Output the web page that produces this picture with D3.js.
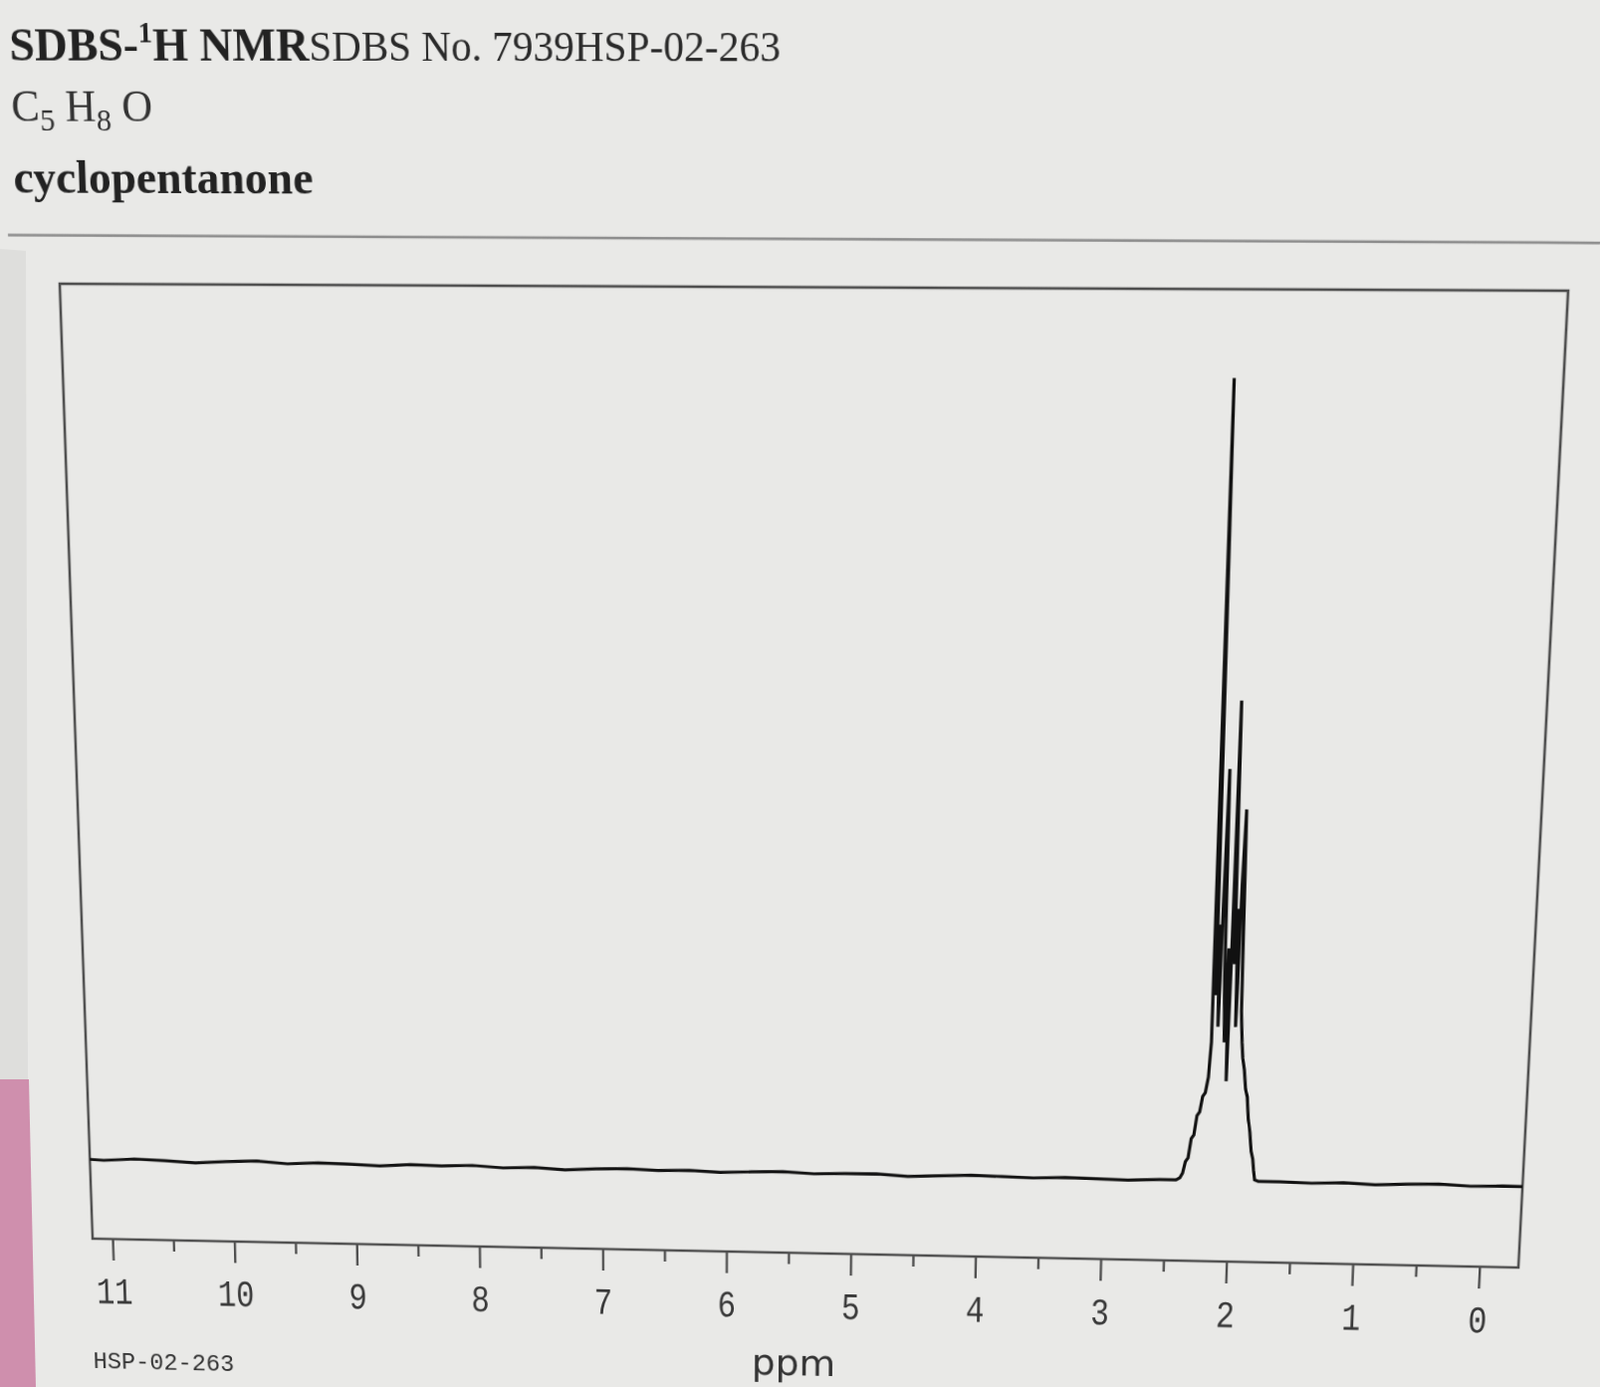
<!DOCTYPE html>
<html><head><meta charset="utf-8">
<script src="https://cdn.jsdelivr.net/npm/d3@7"></script>
<style>
html,body{margin:0;padding:0;width:1607px;height:1393px;overflow:hidden;background:#e9e9e7;}
#bg{position:absolute;left:0;top:0;}
#plane{position:absolute;left:0;top:0;width:1607px;height:1393px;transform-origin:0 0;}
</style></head><body>
<svg id="bg" width="1607" height="1393"></svg>
<div id="plane"><svg id="chart" width="1607" height="1393" style="overflow:visible"></svg></div>
<script>
// ---------------- data ----------------
const titleBold = "SDBS-";
const titleSup = "1";
const titleBold2 = "H NMR";
const titleRest = "SDBS No. 7939HSP-02-263";
const compoundName = "cyclopentanone";
const sampleCode = "HSP-02-263";
const axisLabel = "ppm";

const ppmMajorTicks = [11, 10, 9, 8, 7, 6, 5, 4, 3, 2, 1, 0];
const ppmMinorTicks = [10.5, 9.5, 8.5, 7.5, 6.5, 5.5, 4.5, 3.5, 2.5, 1.5, 0.5];

// baseline left of the multiplet
const baseLeftPpm = [11.3, 11.05, 10.8, 10.55, 10.3, 10.05, 9.8, 9.55, 9.3, 9.05, 8.8, 8.55, 8.3, 8.05, 7.8, 7.55, 7.3, 7.05, 6.8, 6.55, 6.3, 6.05, 5.8, 5.55, 5.3, 5.05, 4.8, 4.55, 4.3, 4.05, 3.8, 3.55, 3.3, 3.05, 2.8, 2.55];
const baseLeftInt = [0.2, 0.0, 0.25, 0.1, -0.1, 0.15, 0.3, 0.0, 0.2, 0.1, -0.05, 0.2, 0.1, 0.25, 0.0, 0.15, -0.1, 0.1, 0.2, 0.05, 0.15, -0.05, 0.1, 0.2, 0.0, 0.1, 0.15, -0.1, 0.05, 0.2, 0.1, 0.0, 0.15, 0.05, -0.05, 0.1];

// CH2 multiplet around 2.0-2.2 ppm
const multPpm = [2.42, 2.39, 2.37, 2.35, 2.33, 2.31, 2.29, 2.27, 2.25, 2.23, 2.21, 2.19, 2.175, 2.164, 2.152, 2.14, 2.128, 2.115, 2.10, 2.088, 2.075, 2.062, 2.05, 2.038, 2.027, 2.015, 2.00, 1.99, 1.975, 1.96, 1.948, 1.935, 1.925, 1.91, 1.895, 1.88, 1.865, 1.85, 1.835, 1.82, 1.81, 1.80, 1.77];
const multInt = [0.1, 0.4, 1.0, 2.5, 3.0, 5.5, 6.0, 8.5, 9.0, 11.0, 11.5, 13.5, 18, 100, 24, 33, 20, 36, 52.5, 26, 18, 30, 13, 32, 61, 28, 35, 20, 38, 47.5, 22, 18, 16, 14.5, 12, 11, 8, 6.5, 4, 3, 1.5, 0.3, 0.1];

// baseline right of the multiplet
const baseRightPpm = [1.6, 1.35, 1.1, 0.85, 0.6, 0.35, 0.1, -0.15, -0.4];
const baseRightInt = [0.1, 0.0, 0.15, -0.05, 0.1, 0.2, 0.0, 0.1, 0.05];

// ---------------- layout (page = photographed plane) ----------------
const PAGE_QUAD = [[60, 285], [1575, 292], [1525, 1273], [93, 1244]]; // frame TL, TR, BR, BL
const FLAT = {x: 76, y: 285, w: 1475, h: 970};
const CAL_11 = 113, CAL_0 = 1486;   // page x of the 11 and 0 ticks on the frame bottom
const BASE_GAP = 84;                // baseline height above frame bottom
const Y_MAX = 110.5;

function squareToQuad(q) {
  const [[x0, y0], [x1, y1], [x2, y2], [x3, y3]] = q;
  const dx1 = x1 - x2, dx2 = x3 - x2, dx3 = x0 - x1 + x2 - x3;
  const dy1 = y1 - y2, dy2 = y3 - y2, dy3 = y0 - y1 + y2 - y3;
  const den = dx1 * dy2 - dx2 * dy1;
  const g = (dx3 * dy2 - dx2 * dy3) / den;
  const h = (dx1 * dy3 - dx3 * dy1) / den;
  return [[x1 - x0 + g * x1, x3 - x0 + h * x3, x0],
          [y1 - y0 + g * y1, y3 - y0 + h * y3, y0],
          [g, h, 1]];
}
function mul(A, B) {
  return A.map((r, i) => [0, 1, 2].map(j => r[0] * B[0][j] + r[1] * B[1][j] + r[2] * B[2][j]));
}
function inv3(m) {
  const [a, b, c] = m[0], [d, e, f] = m[1], [g, h, i] = m[2];
  const A = e * i - f * h, B = -(d * i - f * g), C = d * h - e * g;
  const D = -(b * i - c * h), E = a * i - c * g, F = -(a * h - b * g);
  const G = b * f - c * e, H = -(a * f - c * d), I = a * e - b * d;
  const det = a * A + b * B + c * C;
  return [[A / det, D / det, G / det], [B / det, E / det, H / det], [C / det, F / det, I / det]];
}
function apply(m, x, y) {
  const w = m[2][0] * x + m[2][1] * y + m[2][2];
  return [(m[0][0] * x + m[0][1] * y + m[0][2]) / w, (m[1][0] * x + m[1][1] * y + m[1][2]) / w];
}
const S = squareToQuad(PAGE_QUAD);
const T = [[1 / FLAT.w, 0, -FLAT.x / FLAT.w], [0, 1 / FLAT.h, -FLAT.y / FLAT.h], [0, 0, 1]];
let M = mul(S, T);
M = M.map(r => r.map(v => v / M[2][2]));
const Minv = inv3(M);
const unproject = (px, py) => apply(Minv, px, py);

document.getElementById("plane").style.transform =
  `matrix3d(${M[0][0]},${M[1][0]},0,${M[2][0]},${M[0][1]},${M[1][1]},0,${M[2][1]},0,0,1,0,${M[0][2]},${M[1][2]},0,${M[2][2]})`;

// ---------------- background (outside the screen plane) ----------------
const bg = d3.select("#bg");
bg.append("polygon").attr("points", "0,250 26,252 28,1084 0,1084").attr("fill", "#dededc");
bg.append("polygon").attr("points", "0,1084 29,1084 36,1393 0,1393").attr("fill", "#cf8fad");

// ---------------- chart ----------------
const svg = d3.select("#chart");
const bottomY = FLAT.y + FLAT.h;
const pageBottomY = px => PAGE_QUAD[3][1] + (px - PAGE_QUAD[3][0]) / (PAGE_QUAD[2][0] - PAGE_QUAD[3][0]) * (PAGE_QUAD[2][1] - PAGE_QUAD[3][1]);
const f11 = unproject(CAL_11, pageBottomY(CAL_11))[0];
const f0 = unproject(CAL_0, pageBottomY(CAL_0))[0];

const x = d3.scaleLinear().domain([11, 0]).range([f11, f0]);
const y = d3.scaleLinear().domain([0, Y_MAX]).range([bottomY - BASE_GAP, FLAT.y]);

// header texts
const serif = "'Liberation Serif','Times New Roman',serif";
let p = unproject(10, 61);
const t1 = svg.append("text").attr("x", p[0]).attr("y", p[1])
  .attr("font-family", serif).attr("font-size", 40).attr("fill", "#222");
t1.append("tspan").attr("font-weight", "bold").attr("font-size", 45).text(titleBold);
t1.append("tspan").attr("font-weight", "bold").attr("font-size", 28).attr("dy", -17).text(titleSup);
t1.append("tspan").attr("font-weight", "bold").attr("font-size", 45).attr("dy", 17).text(titleBold2);
t1.append("tspan").attr("fill", "#2a2a2a").text(titleRest);

p = unproject(12, 121);
const t2 = svg.append("text").attr("x", p[0]).attr("y", p[1])
  .attr("font-family", serif).attr("font-size", 42).attr("fill", "#333");
t2.append("tspan").text("C");
t2.append("tspan").attr("font-size", 30).attr("dy", 9).text("5");
t2.append("tspan").attr("dy", -9).text(" H");
t2.append("tspan").attr("font-size", 30).attr("dy", 9).text("8");
t2.append("tspan").attr("dy", -9).text(" O");

p = unproject(14, 194);
svg.append("text").attr("x", p[0]).attr("y", p[1])
  .attr("font-family", serif).attr("font-size", 45).attr("font-weight", "bold").attr("fill", "#222")
  .text(compoundName);

const r0 = unproject(8, 236), r1 = unproject(1607, 244);
svg.append("line").attr("x1", r0[0]).attr("y1", r0[1]).attr("x2", r1[0]).attr("y2", r1[1])
  .attr("stroke", "#8c8c8c").attr("stroke-width", 2.5);

// frame
svg.append("rect").attr("x", FLAT.x).attr("y", FLAT.y).attr("width", FLAT.w).attr("height", FLAT.h)
  .attr("fill", "none").attr("stroke", "#4d4d4d").attr("stroke-width", 2.6);

svg.append("clipPath").attr("id", "clip").append("rect")
  .attr("x", FLAT.x).attr("y", FLAT.y).attr("width", FLAT.w).attr("height", FLAT.h);

// spectrum
const ppmAll = baseLeftPpm.concat(multPpm, baseRightPpm);
const intAll = baseLeftInt.concat(multInt, baseRightInt);
const spectrum = ppmAll.map((d, i) => [d, intAll[i]]);
svg.append("path").datum(spectrum).attr("clip-path", "url(#clip)")
  .attr("fill", "none").attr("stroke", "#111").attr("stroke-width", 3.2)
  .attr("stroke-linejoin", "miter").attr("stroke-miterlimit", 2)
  .attr("d", d3.line().x(d => x(d[0])).y(d => y(d[1])));

// axes
const mono = "'Liberation Mono','DejaVu Sans Mono',monospace";
const gMaj = svg.append("g").attr("transform", `translate(0,${bottomY})`)
  .call(d3.axisBottom(x).tickValues(ppmMajorTicks).tickSize(23).tickPadding(18).tickFormat(d3.format("d")));
gMaj.select(".domain").remove();
gMaj.selectAll(".tick line").attr("stroke", "#4d4d4d").attr("stroke-width", 2.4);
gMaj.selectAll(".tick text").attr("font-family", mono).attr("font-size", 40).attr("fill", "#383838")
  .attr("transform", "scale(0.8,1)");

const gMin = svg.append("g").attr("transform", `translate(0,${bottomY})`)
  .call(d3.axisBottom(x).tickValues(ppmMinorTicks).tickSize(12).tickFormat(""));
gMin.select(".domain").remove();
gMin.selectAll(".tick line").attr("stroke", "#4d4d4d").attr("stroke-width", 2.4);

p = unproject(94, 1374);
svg.append("text").attr("x", p[0]).attr("y", p[1]).attr("font-family", mono)
  .attr("font-size", 25).attr("fill", "#333").text(sampleCode);

p = unproject(797, 1381);
svg.append("text").attr("x", p[0]).attr("y", p[1]).attr("text-anchor", "middle")
  .attr("font-family", "'DejaVu Sans',sans-serif").attr("font-size", 39).attr("fill", "#333").text(axisLabel);
</script>
</body></html>
